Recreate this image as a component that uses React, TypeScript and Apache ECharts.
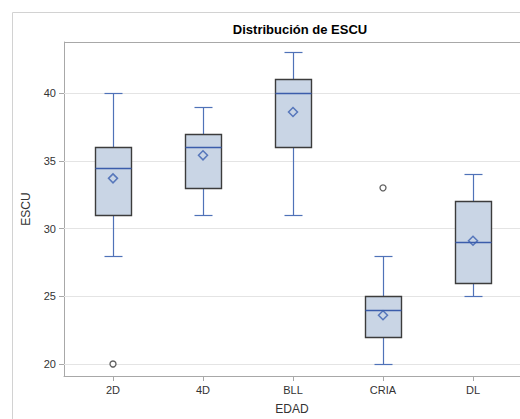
import React, { useEffect, useRef } from "react";
import * as echarts from "echarts";

const categories = ["2D", "4D", "BLL", "CRIA", "DL"];
const lowWhisker = [28, 31, 31, 20, 25];
const q1 = [31, 33, 36, 22, 26];
const median = [34.5, 36, 40, 24, 29];
const q3 = [36, 37, 41, 25, 32];
const highWhisker = [40, 39, 43, 28, 34];
const means = [33.7, 35.4, 38.6, 23.6, 29.1];
const outlierCategory = ["2D", "CRIA"];
const outlierValue = [20, 33];
const yTicks = [20, 25, 30, 35, 40];

const FONT = "Liberation Sans, Arial, sans-serif";
const BOX_FILL = "#c9d5e5";
const BOX_STROKE = "#3c3c3c";
const WHISKER = "#4f72b8";
const MEDIAN = "#3b5dab";
const FRAME = "#a8a8a8";

export default function App() {
  const ref = useRef<HTMLDivElement>(null);
  useEffect(() => {
    document.body.style.margin = "0";
    if (!ref.current) return;
    const chart = echarts.init(ref.current, undefined, { renderer: "svg" });
    const xPos = categories.map((_, i) => i + 1);
    const boxData = categories.map((_, i) => [
      xPos[i],
      lowWhisker[i],
      q1[i],
      median[i],
      q3[i],
      highWhisker[i],
    ]);
    const crisp = (v: number) => Math.round(v) + 0.5;
    const option: any = {
      animation: false,
      backgroundColor: "#ffffff",
      title: {
        text: "Distribución de ESCU",
        left: 295,
        textAlign: "center",
        top: 18,
        textStyle: { fontFamily: FONT, fontSize: 13, fontWeight: "bold", color: "#000" },
      },
      graphic: [
        {
          type: "line",
          shape: { x1: 12.5, y1: 12.5, x2: 12.5, y2: 419 },
          style: { stroke: "#d2d2d2", lineWidth: 1 },
          silent: true,
        },
        {
          type: "line",
          shape: { x1: 12.5, y1: 12.5, x2: 520, y2: 12.5 },
          style: { stroke: "#d2d2d2", lineWidth: 1 },
          silent: true,
        },
        {
          type: "line",
          shape: { x1: 64, y1: 42.5, x2: 520, y2: 42.5 },
          style: { stroke: FRAME, lineWidth: 1 },
          silent: true,
        },
      ],
      grid: {
        left: 64,
        top: 42,
        width: 456,
        height: 334,
        show: false,
        containLabel: false,
        outerBoundsMode: "none",
      },
      xAxis: {
        type: "value",
        min: 1 - 49 / 90,
        max: 5 + 47 / 90,
        name: "EDAD",
        nameLocation: "middle",
        nameGap: 27,
        nameTextStyle: { fontFamily: FONT, fontSize: 12, color: "#333" },
        axisLine: { show: true, lineStyle: { color: FRAME } },
        axisTick: { show: true, length: 5, lineStyle: { color: FRAME }, customValues: xPos },
        axisLabel: {
          customValues: xPos,
          fontFamily: FONT,
          fontSize: 11,
          color: "#333",
          margin: 8,
          formatter: (v: number) => categories[Math.round(v) - 1] ?? "",
        },
        splitLine: { show: false },
      },
      yAxis: {
        type: "value",
        min: 20 - 12 / 13.55,
        max: 40 + 51 / 13.55,
        name: "ESCU",
        nameLocation: "middle",
        nameGap: 32,
        nameTextStyle: { fontFamily: FONT, fontSize: 12, color: "#333" },
        axisLine: { show: true, lineStyle: { color: FRAME } },
        axisTick: { show: true, length: 5, lineStyle: { color: FRAME }, customValues: yTicks },
        axisLabel: {
          customValues: yTicks,
          fontFamily: FONT,
          fontSize: 11,
          color: "#333",
          margin: 8,
        },
        splitLine: { show: false },
      },
      series: [
        {
          type: "custom",
          data: boxData,
          encode: { x: 0, y: [1, 2, 3, 4, 5] },
          z: 3,
          markLine: {
            silent: true,
            symbol: ["none", "none"],
            label: { show: false },
            lineStyle: { color: "#e4e4e4", type: "solid", width: 1 },
            data: yTicks.map((t) => ({ yAxis: t })),
            z: 1,
          },
          renderItem: (params: any, api: any) => {
            const x = api.value(0);
            const pLow = api.coord([x, api.value(1)]);
            const pQ1 = api.coord([x, api.value(2)]);
            const pMed = api.coord([x, api.value(3)]);
            const pQ3 = api.coord([x, api.value(4)]);
            const pHigh = api.coord([x, api.value(5)]);
            const cx = crisp(pLow[0]);
            const half = 18;
            const cap = 9;
            const yLow = crisp(pLow[1]);
            const yQ1 = crisp(pQ1[1]);
            const yMed = crisp(pMed[1]);
            const yQ3 = crisp(pQ3[1]);
            const yHigh = crisp(pHigh[1]);
            const wStyle = { stroke: WHISKER, lineWidth: 1.2 };
            return {
              type: "group",
              children: [
                { type: "line", shape: { x1: cx, y1: yLow, x2: cx, y2: yQ1 }, style: wStyle },
                { type: "line", shape: { x1: cx, y1: yQ3, x2: cx, y2: yHigh }, style: wStyle },
                { type: "line", shape: { x1: cx - cap, y1: yLow, x2: cx + cap, y2: yLow }, style: wStyle },
                { type: "line", shape: { x1: cx - cap, y1: yHigh, x2: cx + cap, y2: yHigh }, style: wStyle },
                {
                  type: "rect",
                  shape: { x: cx - half, y: yQ3, width: half * 2, height: yQ1 - yQ3 },
                  style: { fill: BOX_FILL, stroke: BOX_STROKE, lineWidth: 1.4 },
                },
                {
                  type: "line",
                  shape: { x1: cx - half, y1: yMed, x2: cx + half, y2: yMed },
                  style: { stroke: MEDIAN, lineWidth: 1.3 },
                },
              ],
            };
          },
        },
        {
          type: "scatter",
          z: 5,
          symbol: "diamond",
          symbolSize: [9, 9],
          itemStyle: { color: "transparent", borderColor: "#3a5fb0", borderWidth: 1.5 },
          data: categories.map((_, i) => [xPos[i], means[i]]),
        },
        {
          type: "scatter",
          z: 5,
          symbol: "circle",
          symbolSize: 6,
          itemStyle: { color: "#ffffff", borderColor: "#333333", borderWidth: 1.3 },
          data: outlierCategory.map((c, i) => [categories.indexOf(c) + 1, outlierValue[i]]),
        },
      ],
    };
    chart.setOption(option);
    return () => chart.dispose();
  }, []);
  return <div ref={ref} style={{ width: 520, height: 419 }} />;
}
